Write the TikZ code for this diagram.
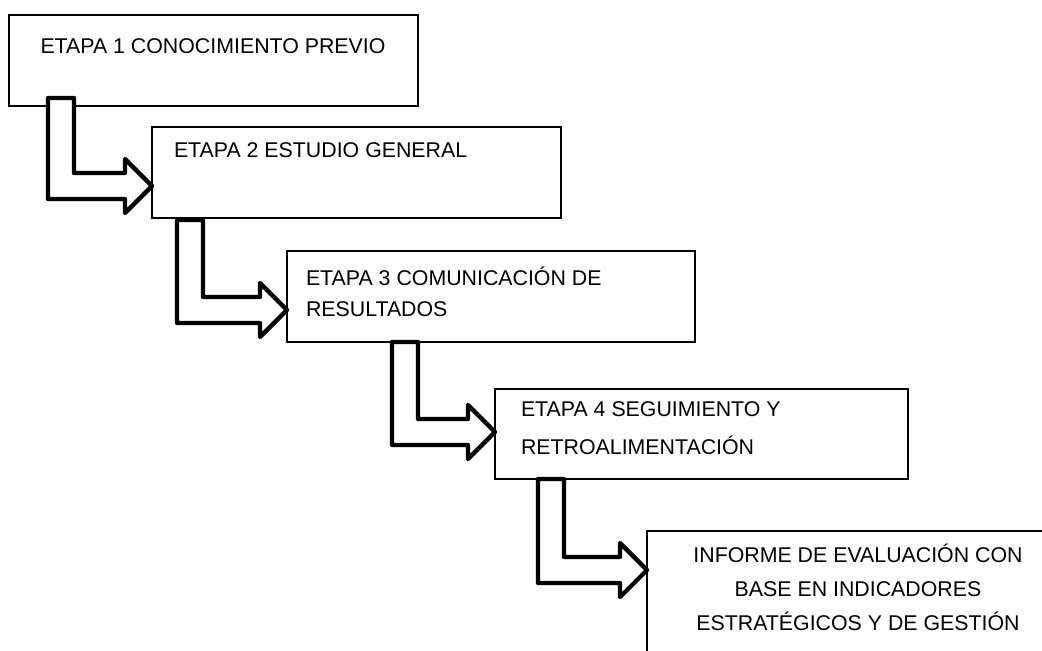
\documentclass[tikz,border=0pt]{standalone}
\usepackage{fontspec}
\setmainfont{Liberation Sans}
\usetikzlibrary{calc}
\tikzset{
  stagebox/.style 2 args={draw=black, line width=1pt, fill=white, rectangle,
    inner sep=0pt, outer sep=0pt, anchor=north west,
    minimum width=#1*0.75pt, minimum height=#2*0.75pt},
  lbl/.style={inner sep=0pt, outer sep=0pt, font=\fontsize{16}{18}\selectfont, anchor=base west},
  lblc/.style={lbl, anchor=base},
  bentarrowstyle/.style={draw=black, line width=3.2pt, fill=white, line join=round},
}
% #1 = top-left coordinate of the vertical stem, #2 = tip coordinate
\newcommand\bentarrow[2]{%
  \draw[bentarrowstyle] (#1) -- ($(#1)+(26,0)$)
    -- ($(#1 |- #2)+(26,-13)$) -- ($(#2)+(-27,-13)$) -- ($(#2)+(-27,-27)$)
    -- (#2) -- ($(#2)+(-27,27)$) -- ($(#2)+(-27,13)$)
    -- ($(#1 |- #2)+(0,13)$) -- cycle;}
\begin{document}
\begin{tikzpicture}[x=0.75pt,y=-0.75pt]
\useasboundingbox (0,0) rectangle (1042,650);
\clip (0,0) rectangle (1042,650);
\fill[white] (0,0) rectangle (1042,650);

% boxes
\node[stagebox={409}{91}] (b1) at (9,15) {};
\node[stagebox={409}{91}] (b2) at (152,127) {};
\node[stagebox={408}{91}] (b3) at (287,251) {};
\node[stagebox={413}{90}] (b4) at (495,389) {};
\node[stagebox={422}{200}] (b5) at (647,531) {};

% texts
\node[lbl] (t1) at (40.5,53.5) {ETAPA 1 CONOCIMIENTO PREVIO};
\node[lbl] (t2) at (174,157) {ETAPA 2 ESTUDIO GENERAL};
\node[lbl] (t3a) at (306,285) {ETAPA 3 COMUNICACIÓN DE};
\node[lbl] (t3b) at (306,316.5) {RESULTADOS};
\node[lbl] (t4a) at (521,416.5) {ETAPA 4 SEGUIMIENTO Y};
\node[lbl] (t4b) at (521,454.5) {RETROALIMENTACIÓN};
\node[lblc] (t5a) at (858,562) {INFORME DE EVALUACIÓN CON};
\node[lblc] (t5b) at (858,596) {BASE EN INDICADORES};
\node[lblc] (t5c) at (858,630.5) {ESTRATÉGICOS Y DE GESTIÓN};

% connector anchor points
\coordinate (s1) at ($(b1.south west)+(39,-8)$);
\coordinate (e1) at ($(b2.north west)+(0,59)$);
\coordinate (s2) at ($(b2.south west)+(25,2)$);
\coordinate (e2) at ($(b3.north west)+(0,59)$);
\coordinate (s3) at ($(b3.south west)+(105,0)$);
\coordinate (e3) at ($(b4.north west)+(0,43)$);
\coordinate (s4) at ($(b4.south west)+(43,0)$);
\coordinate (e4) at ($(b5.north west)+(0,39)$);

\bentarrow{s1}{e1}
\bentarrow{s2}{e2}
\bentarrow{s3}{e3}
\bentarrow{s4}{e4}
\end{tikzpicture}
\end{document}
